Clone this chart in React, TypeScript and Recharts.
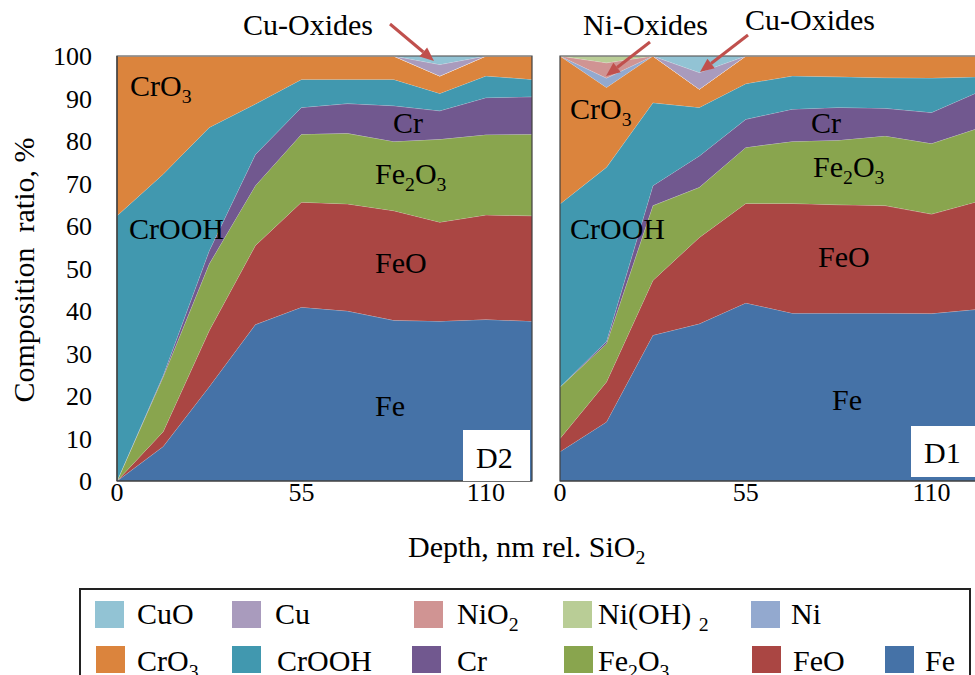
import React from "react";
import { AreaChart, Area, XAxis, YAxis, ReferenceArea } from "recharts";

const depth = [0, 13.75, 27.5, 41.25, 55, 68.75, 82.5, 96.25, 110, 123.75];
const xTicks = [0, 55, 110];
const yTicks = [0, 10, 20, 30, 40, 50, 60, 70, 80, 90, 100];

// Panel D2 (left)
const d2Fe = [0, 8.1, 22.2, 36.8, 40.9, 40.0, 37.8, 37.6, 38.0, 37.6];
const d2FeO = [0, 3.5, 13.2, 18.6, 24.7, 25.2, 25.8, 23.3, 24.6, 24.8];
const d2Fe2O3 = [0, 12.9, 15.7, 14.1, 16.0, 16.6, 16.3, 19.5, 18.9, 19.2];
const d2Cr = [0, 0.3, 3.1, 7.3, 6.3, 7.0, 8.4, 6.7, 8.7, 8.8];
const d2CrOOH = [62.4, 47.4, 29.0, 11.9, 6.6, 5.7, 6.2, 4.1, 5.1, 4.1];
const d2CrO3 = [37.6, 27.8, 16.8, 11.3, 5.5, 5.5, 5.5, 4.1, 4.7, 5.5];
const d2Ni = [0, 0, 0, 0, 0, 0, 0, 0, 0, 0];
const d2NiO2 = [0, 0, 0, 0, 0, 0, 0, 0, 0, 0];
const d2NiOH2 = [0, 0, 0, 0, 0, 0, 0, 0, 0, 0];
const d2Cu = [0, 0, 0, 0, 0, 0, 0, 2.7, 0, 0];
const d2CuO = [0, 0, 0, 0, 0, 0, 0, 2.0, 0, 0];

// Panel D1 (right)
const d1Fe = [6.9, 13.9, 34.3, 37.0, 41.9, 39.5, 39.5, 39.5, 39.4, 40.4];
const d1FeO = [3.1, 9.4, 12.9, 20.3, 23.4, 25.8, 25.5, 25.3, 23.4, 25.4];
const d1Fe2O3 = [12.1, 9.0, 17.6, 11.8, 13.2, 14.6, 15.2, 16.4, 16.6, 17.2];
const d1Cr = [0, 0.5, 4.7, 7.4, 6.6, 7.6, 7.7, 6.5, 7.3, 8.5];
const d1CrOOH = [43.1, 41.0, 19.5, 11.4, 8.4, 7.8, 7.2, 7.2, 8.1, 3.6];
const d1CrO3 = [34.8, 18.8, 11.0, 4.3, 6.5, 4.7, 4.9, 5.1, 5.2, 4.9];
const d1Ni = [0, 2.2, 0, 0, 0, 0, 0, 0, 0, 0];
const d1NiO2 = [0, 3.6, 0, 0, 0, 0, 0, 0, 0, 0];
const d1NiOH2 = [0, 1.6, 0, 0, 0, 0, 0, 0, 0, 0];
const d1Cu = [0, 0, 0, 3.9, 0, 0, 0, 0, 0, 0];
const d1CuO = [0, 0, 0, 3.9, 0, 0, 0, 0, 0, 0];

const seriesKeys = ["Fe", "FeO", "Fe2O3", "Cr", "CrOOH", "CrO3", "Ni", "NiO2", "NiOH2", "Cu", "CuO"];
const seriesColors: Record<string, string> = {
  Fe: "#4572A7",
  FeO: "#AA4643",
  Fe2O3: "#89A54E",
  Cr: "#71588F",
  CrOOH: "#4198AF",
  CrO3: "#DB843D",
  Ni: "#93A9CF",
  NiO2: "#D09493",
  NiOH2: "#B9CD96",
  Cu: "#A99BBD",
  CuO: "#92C3D4",
};

function buildRows(cols: Record<string, number[]>) {
  return depth.map((d, i) => {
    const row: Record<string, number> = { depth: d };
    seriesKeys.forEach((k) => {
      row[k] = cols[k][i];
    });
    return row;
  });
}

const d2Rows = buildRows({
  Fe: d2Fe, FeO: d2FeO, Fe2O3: d2Fe2O3, Cr: d2Cr, CrOOH: d2CrOOH, CrO3: d2CrO3,
  Ni: d2Ni, NiO2: d2NiO2, NiOH2: d2NiOH2, Cu: d2Cu, CuO: d2CuO,
});
const d1Rows = buildRows({
  Fe: d1Fe, FeO: d1FeO, Fe2O3: d1Fe2O3, Cr: d1Cr, CrOOH: d1CrOOH, CrO3: d1CrO3,
  Ni: d1Ni, NiO2: d1NiO2, NiOH2: d1NiOH2, Cu: d1Cu, CuO: d1CuO,
});

const FONT = "'Liberation Serif', 'Times New Roman', serif";
const AXIS = "#404040";

function XTick(props: any) {
  const { x, y, payload } = props;
  return (
    <text x={x} y={y} dy={18} textAnchor="middle" fontFamily={FONT} fontSize={26} fill="#000">
      {payload.value}
    </text>
  );
}
function YTick(props: any) {
  const { x, y, payload } = props;
  return (
    <text x={x} y={y} dy={9} textAnchor="end" fontFamily={FONT} fontSize={26} fill="#000">
      {payload.value}
    </text>
  );
}

function Panel({ rows, showY }: { rows: Record<string, number>[]; showY: boolean }) {
  return (
    <AreaChart
      width={showY ? 545 : 460}
      height={520}
      data={rows}
      margin={showY ? { top: 56, right: 13, bottom: 9, left: 57 } : { top: 56, right: 22, bottom: 9, left: 20 }}
    >
      <XAxis
        type="number"
        dataKey="depth"
        domain={[0, 123.75]}
        ticks={xTicks}
        tickLine={false}
        tickSize={0}
        tickMargin={2}
        axisLine={{ stroke: AXIS, strokeWidth: 1.2 }}
        tick={<XTick />}
        height={30}
        allowDecimals
      />
      <YAxis
        type="number"
        domain={[0, 100]}
        ticks={yTicks}
        hide={!showY}
        width={showY ? 60 : 0}
        tickLine={false}
        tickSize={0}
        tickMargin={25}
        axisLine={{ stroke: AXIS, strokeWidth: 1.2 }}
        tick={<YTick />}
      />
      {seriesKeys.map((k) => (
        <Area
          key={k}
          type="linear"
          dataKey={k}
          stackId="s"
          fill={seriesColors[k]}
          fillOpacity={1}
          stroke="#ffffff"
          strokeOpacity={0.45}
          strokeWidth={0.8}
          dot={false}
          activeDot={false}
          isAnimationActive={false}
        />
      ))}
      <ReferenceArea
        x1={0}
        x2={123.75}
        y1={0}
        y2={100}
        fill="none"
        stroke={AXIS}
        strokeWidth={1.2}
        ifOverflow="visible"
      />
    </AreaChart>
  );
}

type Part = [string, boolean];
function Chem({ x, y, parts, size = 30, anchor = "start" }: { x: number; y: number; parts: Part[]; size?: number; anchor?: string }) {
  let down = false;
  const sub = Math.round(size * 0.23);
  return (
    <text x={x} y={y} fontFamily={FONT} fontSize={size} fill="#000" textAnchor={anchor as any}>
      {parts.map(([t, isSub], i) => {
        let dy = 0;
        if (isSub && !down) { dy = sub; down = true; }
        else if (!isSub && down) { dy = -sub; down = false; }
        return (
          <tspan key={i} dy={dy} fontSize={isSub ? size * 0.66 : size}>
            {t}
          </tspan>
        );
      })}
    </text>
  );
}

const legendItems: { parts: Part[]; key: string; sx: number; tx: number; row: number }[] = [
  { parts: [["CuO", false]], key: "CuO", sx: 95, tx: 137, row: 0 },
  { parts: [["Cu", false]], key: "Cu", sx: 232, tx: 275, row: 0 },
  { parts: [["NiO", false], ["2", true]], key: "NiO2", sx: 414, tx: 457, row: 0 },
  { parts: [["Ni(OH) ", false], ["2", true]], key: "NiOH2", sx: 563, tx: 598, row: 0 },
  { parts: [["Ni", false]], key: "Ni", sx: 751, tx: 791, row: 0 },
  { parts: [["CrO", false], ["3", true]], key: "CrO3", sx: 96, tx: 137, row: 1 },
  { parts: [["CrOOH", false]], key: "CrOOH", sx: 232, tx: 277, row: 1 },
  { parts: [["Cr", false]], key: "Cr", sx: 412, tx: 457, row: 1 },
  { parts: [["Fe", false], ["2", true], ["O", false], ["3", true]], key: "Fe2O3", sx: 564, tx: 598, row: 1 },
  { parts: [["FeO", false]], key: "FeO", sx: 752, tx: 793, row: 1 },
  { parts: [["Fe", false]], key: "Fe", sx: 885, tx: 925, row: 1 },
];

function Arrow({ x1, y1, x2, y2 }: { x1: number; y1: number; x2: number; y2: number }) {
  const ang = Math.atan2(y2 - y1, x2 - x1);
  const L = 14, W = 6;
  const bx = x2 - L * Math.cos(ang), by = y2 - L * Math.sin(ang);
  const px = -Math.sin(ang) * W, py = Math.cos(ang) * W;
  return (
    <g>
      <line x1={x1} y1={y1} x2={bx} y2={by} stroke="#C0504D" strokeWidth={3} />
      <polygon points={`${x2},${y2} ${bx + px},${by + py} ${bx - px},${by - py}`} fill="#C0504D" />
    </g>
  );
}

export default function App() {
  return (
    <div style={{ position: "absolute", left: 0, top: 0, width: 975, height: 675, overflow: "hidden", background: "#fff", fontFamily: FONT }}>
      <div style={{ position: "absolute", left: 0, top: 0 }}>
        <Panel rows={d2Rows} showY />
      </div>
      <div style={{ position: "absolute", left: 540, top: 0 }}>
        <Panel rows={d1Rows} showY={false} />
      </div>
      <svg width={975} height={675} style={{ position: "absolute", left: 0, top: 0, pointerEvents: "none" }}>
        {/* axis titles */}
        <text
          x={0}
          y={0}
          transform="translate(34,270) rotate(-90)"
          textAnchor="middle"
          fontFamily={FONT}
          fontSize={30}
          fill="#000"
          style={{ whiteSpace: "pre" }}
        >
          {"Composition\u00A0 ratio, %"}
        </text>
        <Chem x={408} y={557} parts={[["Depth, nm rel. SiO", false], ["2", true]]} />

        {/* annotations */}
        <text x={243} y={35} fontFamily={FONT} fontSize={30} fill="#000">Cu-Oxides</text>
        <Arrow x1={390} y1={24} x2={434} y2={61} />
        <text x={583} y={35} fontFamily={FONT} fontSize={30} fill="#000">Ni-Oxides</text>
        <Arrow x1={650} y1={42} x2={606} y2={76} />
        <text x={745} y={30} fontFamily={FONT} fontSize={30} fill="#000">Cu-Oxides</text>
        <Arrow x1={748} y1={35} x2={700} y2={72} />

        {/* D2 labels */}
        <Chem x={130} y={96} parts={[["CrO", false], ["3", true]]} />
        <Chem x={129} y={239} parts={[["CrOOH", false]]} />
        <Chem x={393} y={133} parts={[["Cr", false]]} />
        <Chem x={375} y={184} parts={[["Fe", false], ["2", true], ["O", false], ["3", true]]} />
        <Chem x={375} y={273} parts={[["FeO", false]]} />
        <Chem x={375} y={416} parts={[["Fe", false]]} />
        <rect x={463} y={430} width={67} height={51} fill="#fff" />
        <Chem x={476} y={468} parts={[["D2", false]]} />

        {/* D1 labels */}
        <Chem x={570} y={119} parts={[["CrO", false], ["3", true]]} />
        <Chem x={570} y={239} parts={[["CrOOH", false]]} />
        <Chem x={811} y={133} parts={[["Cr", false]]} />
        <Chem x={813} y={177} parts={[["Fe", false], ["2", true], ["O", false], ["3", true]]} />
        <Chem x={818} y={267} parts={[["FeO", false]]} />
        <Chem x={832} y={410} parts={[["Fe", false]]} />
        <rect x={911} y={426} width={70} height={51} fill="#fff" />
        <Chem x={924} y={463} parts={[["D1", false]]} />

        {/* legend */}
        <rect x={80} y={589} width={890} height={110} fill="none" stroke="#222" strokeWidth={2} />
        {legendItems.map((it) => (
          <g key={it.key}>
            <rect x={it.sx} y={it.row === 0 ? 601 : 646} width={29} height={27} fill={seriesColors[it.key]} />
            <Chem x={it.tx} y={it.row === 0 ? 624 : 671} parts={it.parts} />
          </g>
        ))}
      </svg>
    </div>
  );
}
